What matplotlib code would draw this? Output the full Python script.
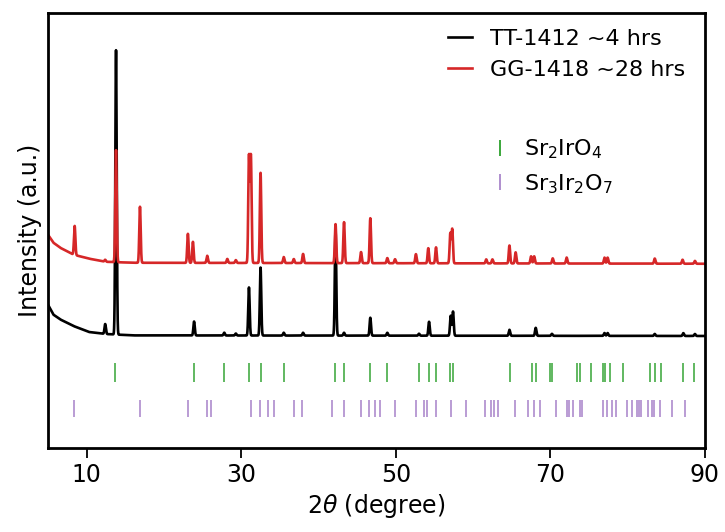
import numpy as np
import matplotlib.pyplot as plt
from matplotlib.lines import Line2D

# XRD peaks: position (2theta, deg) and height (a.u., main peak = 100)
tt_pos = [12.4, 13.8, 23.9, 27.8, 29.3, 31.0, 32.5, 35.5, 38.0, 42.2, 43.3, 46.7,
          48.9, 53.0, 54.3, 57.1, 57.4, 64.7, 68.1, 70.2, 77.0, 77.4, 83.5, 87.2, 88.7]
tt_height = [3.5, 100, 4.9, 1.0, 0.7, 16.9, 23.9, 1.0, 1.0, 37.3, 1.0, 6.3,
             1.0, 0.7, 4.9, 7.0, 8.5, 2.1, 2.8, 0.7, 1.0, 1.0, 0.7, 1.0, 0.7]

gg_pos = [8.45, 12.4, 13.8, 16.9, 23.1, 23.75, 25.6, 28.2, 29.3, 31.0, 31.25, 32.5,
          35.5, 36.8, 38.0, 42.2, 43.3, 45.5, 46.7, 48.9, 49.9, 52.6, 54.2, 55.2,
          57.05, 57.3, 61.7, 62.5, 64.7, 65.5, 67.5, 67.9, 70.3, 72.1, 77.0, 77.4,
          83.5, 87.1, 88.7]
gg_height = [10.2, 0.7, 39.4, 19.7, 10.2, 7.4, 2.5, 1.4, 1.0, 37.5, 37.5, 31.7,
             2.1, 1.4, 3.2, 13.7, 14.4, 3.9, 15.8, 1.8, 1.4, 3.2, 5.3, 5.6,
             10.5, 12.0, 1.4, 1.4, 6.3, 3.9, 2.5, 2.5, 1.8, 2.1, 2.1, 2.1,
             1.8, 1.4, 1.0]

# low-angle background
bg_x = [5.0, 5.7, 6.6, 8.3, 10.3, 12.4, 16.0, 90.0]
tt_bg = [11.0, 7.5, 5.8, 3.5, 1.4, 0.7, 0.2, 0.0]
gg_bg = [10.2, 7.4, 5.6, 3.2, 1.8, 0.7, 0.35, 0.0]

tt_offset = 39.4
gg_offset = 64.8

# reference reflections
s214_pos = [13.72, 23.88, 27.77, 31.01, 32.53, 35.55, 42.13, 43.33, 46.7, 48.87,
            53.06, 54.27, 55.22, 57.0, 57.35, 64.73, 67.62, 68.18, 69.92, 70.27,
            73.45, 73.8, 75.2, 76.83, 77.04, 77.69, 79.34, 82.88, 83.53, 84.27,
            87.12, 88.61]
s327_pos = [8.4, 16.96, 23.14, 25.52, 26.12, 31.31, 32.4, 33.5, 34.3, 36.85, 37.9,
            41.74, 43.33, 45.5, 46.58, 47.36, 48.0, 49.9, 52.63, 53.7, 54.0, 55.22,
            57.17, 59.12, 61.58, 62.36, 62.65, 63.22, 65.47, 67.11, 67.89, 68.63,
            70.66, 72.09, 72.43, 72.87, 73.82, 74.07, 76.76, 77.28, 77.93, 78.45,
            79.88, 80.53, 81.17, 81.47, 81.7, 82.68, 83.12, 83.42, 84.2, 85.72, 87.43]

x = np.arange(5.0, 90.0, 0.01)


def pattern(pos, height, bg, offset, sig=0.09):
    y = offset + np.interp(x, bg_x, bg)
    for p, h in zip(pos, height):
        y = y + h * np.exp(-(x - p) ** 2 / (2 * sig ** 2))
    return y


fig = plt.figure(figsize=(7.25, 5.32), dpi=100)
ax = fig.add_axes([0.0662, 0.1579, 0.9062, 0.8177])

l1, = ax.plot(x, pattern(tt_pos, tt_height, tt_bg, tt_offset), color='black', lw=1.9,
              label='TT-1412 ~4 hrs')
l2, = ax.plot(x, pattern(gg_pos, gg_height, gg_bg, gg_offset), color='#d62728', lw=1.9,
              label='GG-1418 ~28 hrs')

ax.vlines(s214_pos, 23.2, 29.9, color='tab:green', lw=1.4, alpha=0.75)
ax.vlines(s327_pos, 10.9, 16.9, color='tab:purple', lw=1.4, alpha=0.65)

ax.set_xlim(5, 90)
ax.set_ylim(0, 153)
ax.set_xticks([10, 30, 50, 70, 90])
ax.set_yticks([])
ax.tick_params(axis='x', labelsize=17, length=7, width=1.3, direction='out')
for s in ax.spines.values():
    s.set_linewidth(2)
ax.set_xlabel(r'2$\theta$ (degree)', fontsize=17)
ax.set_ylabel('Intensity (a.u.)', fontsize=17)

leg1 = ax.legend(handles=[l1, l2], loc='upper right', frameon=False, fontsize=16,
                 handlelength=1.1, bbox_to_anchor=(1.0, 1.01))
ax.add_artist(leg1)
h1 = Line2D([], [], marker='|', ls='', color='tab:green', markersize=12, mew=1.3)
h2 = Line2D([], [], marker='|', ls='', color='tab:purple', markersize=12, mew=1.3, alpha=0.8)
ax.legend(handles=[h1, h2], labels=[r'Sr$_2$IrO$_4$', r'Sr$_3$Ir$_2$O$_7$'],
          loc='upper right', frameon=False, fontsize=16, bbox_to_anchor=(0.89, 0.76),
          handlelength=0.8, handletextpad=0.7)

fig.savefig('out.png', dpi=100)
